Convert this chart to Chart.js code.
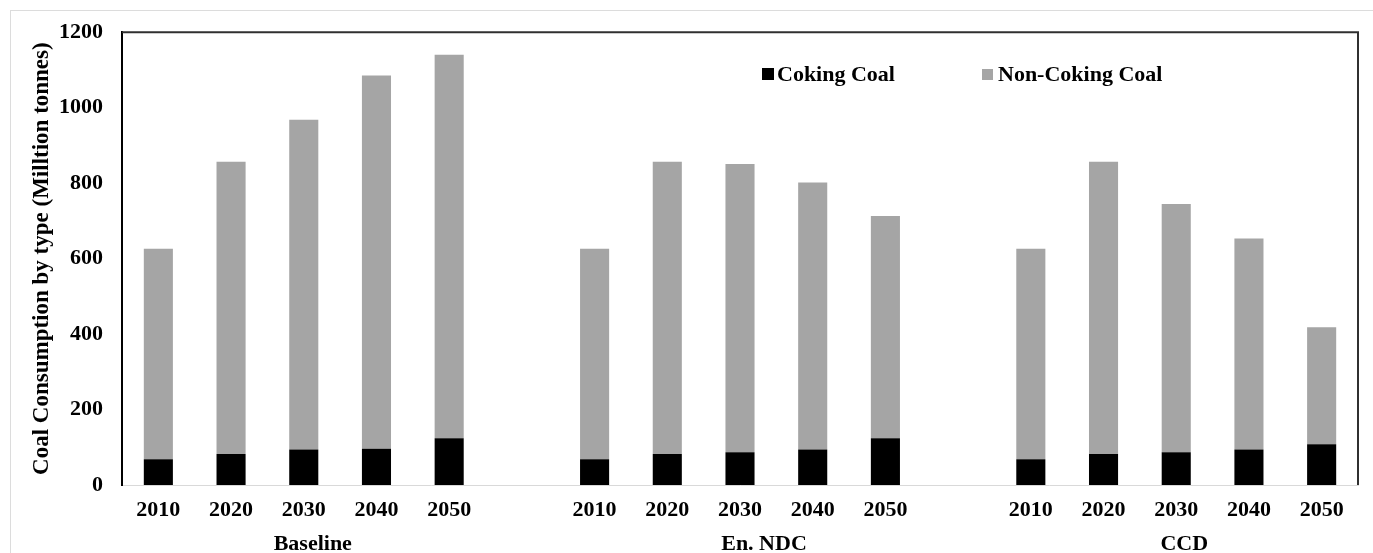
<!DOCTYPE html>
<html>
<head>
<meta charset="utf-8">
<script src="https://cdn.jsdelivr.net/npm/chart.js@4/dist/chart.umd.min.js"></script>
<style>
  html, body { margin: 0; padding: 0; background: #fff; overflow: hidden; }
  #wrap { position: relative; width: 1373px; height: 553px; }
  #frame { position: absolute; left: 10px; top: 10px; width: 1400px; height: 600px; border: 1px solid #dcdcdc; }
  #chart { position: absolute; left: 0; top: 0; }
</style>
</head>
<body>
<div id="wrap">
  <div id="frame"></div>
  <canvas id="chart" width="1373" height="553"></canvas>
</div>
<script>
// data
const years = ["2010", "2020", "2030", "2040", "2050"];
const scenarios = ["Baseline", "En. NDC", "CCD"];

const cokingBaseline = [68, 82, 94, 96, 124];
const cokingNDC = [68, 82, 87, 94, 124];
const cokingCCD = [68, 82, 87, 94, 108];

const nonCokingBaseline = [558, 775, 874, 989, 1016];
const nonCokingNDC = [558, 775, 764, 708, 589];
const nonCokingCCD = [558, 775, 658, 559, 310];

const yTicks = [0, 200, 400, 600, 800, 1000, 1200];

// one empty slot between the scenario groups
function withGaps(groups, filler) {
  let out = [];
  groups.forEach((g, i) => {
    if (i > 0) out.push(filler);
    out = out.concat(g);
  });
  return out;
}

const labels = withGaps([years, years, years], "");
const coking = withGaps([cokingBaseline, cokingNDC, cokingCCD], null);
const nonCoking = withGaps([nonCokingBaseline, nonCokingNDC, nonCokingCCD], null);

const BLACK = "#000000";
const GREY = "#a5a5a5";
const FONT = "'Liberation Serif', 'Times New Roman', serif";

Chart.defaults.font.family = FONT;
Chart.defaults.color = "#000";

const extras = {
  id: "extras",
  afterDraw(chart) {
    const ctx = chart.ctx;
    const a = chart.chartArea;
    const x = chart.scales.x;

    ctx.save();
    // top and right frame of the plot
    ctx.strokeStyle = "#303030";
    ctx.lineWidth = 2;
    ctx.beginPath();
    ctx.moveTo(a.left, a.top);
    ctx.lineTo(a.right, a.top);
    ctx.lineTo(a.right, a.bottom);
    ctx.stroke();

    // scenario names under the years
    ctx.font = "bold 22px " + FONT;
    ctx.fillStyle = "#000";
    ctx.textAlign = "center";
    ctx.textBaseline = "alphabetic";
    const shift = [9, 24, 8];
    scenarios.forEach((name, i) => {
      const mid = i * (years.length + 1) + 2;
      ctx.fillText(name, x.getPixelForValue(mid) + shift[i], 550);
    });

    // legend inside the plot
    ctx.font = "bold 22px " + FONT;
    ctx.textAlign = "left";
    ctx.fillStyle = BLACK;
    ctx.fillRect(762, 68, 12, 12);
    ctx.fillText("Coking Coal", 777, 81);
    ctx.fillStyle = GREY;
    ctx.fillRect(982, 69, 11, 11);
    ctx.fillStyle = "#000";
    ctx.fillText("Non-Coking Coal", 998, 81);
    ctx.restore();
  }
};

new Chart(document.getElementById("chart"), {
  type: "bar",
  data: {
    labels: labels,
    datasets: [
      { label: "Coking Coal", data: coking, backgroundColor: BLACK, borderWidth: 0 },
      { label: "Non-Coking Coal", data: nonCoking, backgroundColor: GREY, borderWidth: 0 }
    ]
  },
  options: {
    responsive: false,
    animation: false,
    devicePixelRatio: 1,
    barPercentage: 0.4,
    categoryPercentage: 1.0,
    layout: { padding: { left: 18, right: 15, top: 32, bottom: 0 } },
    plugins: {
      legend: { display: false },
      tooltip: { enabled: false }
    },
    scales: {
      x: {
        stacked: true,
        grid: { display: false, drawTicks: false },
        border: { color: "#d9d9d9", width: 1 },
        ticks: {
          font: { size: 22, weight: "bold" },
          color: "#000",
          padding: 12,
          maxRotation: 0,
          autoSkip: false
        },
        afterFit(scale) { scale.height = 68; }
      },
      y: {
        stacked: true,
        min: 0,
        max: 1200,
        afterBuildTicks(scale) { scale.ticks = yTicks.map(v => ({ value: v })); },
        grid: { display: false, drawTicks: false },
        border: { color: "#000", width: 2 },
        ticks: {
          font: { size: 22, weight: "bold" },
          color: "#000",
          padding: 19,
          callback: v => String(v)
        },
        title: {
          display: true,
          text: "Coal Consumption by type (Milltion tonnes)",
          font: { size: 23, weight: "bold" },
          color: "#000",
          padding: { top: 10, bottom: 0 }
        },
        afterFit(scale) { scale.width = 104; }
      }
    }
  },
  plugins: [extras]
});
</script>
</body>
</html>
